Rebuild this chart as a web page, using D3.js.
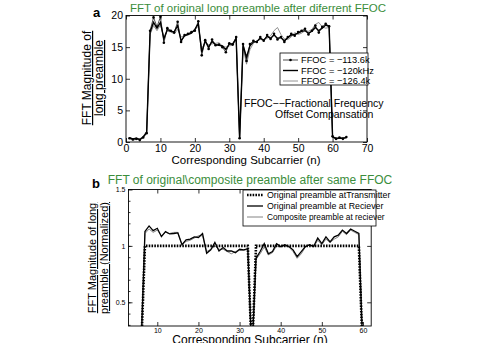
<!DOCTYPE html>
<html>
<head>
<meta charset="utf-8">
<script src="https://cdn.jsdelivr.net/npm/d3@7"></script>
<style>
  body { margin: 0; background: #fff; }
  svg { font-family: "Liberation Sans", Arial, sans-serif; }
  .ylab { text-decoration: underline; }
</style>
</head>
<body>
<div id="chart"></div>
<script>
    // subcarrier index 1..64
    var subcarriers = d3.range(1, 65);

    // panel a: FFT magnitude after different FFOC
    var ffocLabels = ["FFOC = \u2212113.6k", "FFOC = \u2212120kHz", "FFOC = \u2212126.4k"];
    var ffoc113 = [0.6, 0.4, 0.5, 0.3, 0.7, 1.4, 17.6, 19.7, 18.2, 19.8, 15.7, 18.0, 17.6, 17.3, 19.0, 15.8,
      16.9, 17.1, 17.4, 17.6, 19.1, 13.7, 16.1, 14.7, 16.2, 15.3, 15.4, 15.0, 14.2, 15.6, 15.4, 16.6,
      0.6, 15.5, 12.8, 15.5, 16.0, 15.8, 16.6, 16.0, 16.9, 16.3, 17.1, 16.2, 16.6, 15.8, 16.6, 17.1,
      16.8, 17.4, 17.6, 17.9, 17.0, 17.6, 18.4, 17.3, 18.2, 18.7, 18.3, 0.9, 0.5, 0.7, 0.5, 0.8];
    var ffoc120 = [0.7, 0.5, 0.6, 0.4, 0.8, 1.5, 17.4, 18.9, 18.0, 18.9, 16.3, 17.8, 17.5, 17.4, 18.4, 16.0,
      16.8, 17.0, 17.2, 17.8, 18.7, 14.2, 16.0, 15.0, 15.9, 15.4, 15.3, 15.2, 14.6, 15.5, 15.5, 16.4,
      0.5, 15.3, 13.4, 15.2, 15.8, 15.9, 16.4, 16.1, 16.7, 16.4, 16.9, 16.4, 16.5, 16.0, 16.5, 16.9,
      17.0, 17.2, 17.5, 17.6, 17.2, 17.5, 18.1, 17.6, 18.0, 18.5, 18.3, 0.8, 0.6, 0.6, 0.6, 0.7];
    var ffoc126 = [0.5, 0.3, 0.4, 0.5, 0.9, 1.7, 17.0, 18.4, 17.6, 18.5, 16.6, 17.5, 17.4, 17.1, 17.8, 16.6,
      16.8, 17.1, 17.4, 17.7, 18.3, 14.8, 15.7, 15.4, 15.5, 15.6, 15.7, 15.2, 15.0, 15.2, 15.3, 16.2,
      0.7, 15.0, 12.3, 14.6, 15.6, 16.0, 16.2, 16.1, 16.4, 16.8, 17.6, 18.1, 17.0, 16.3, 16.2, 16.6,
      17.3, 17.0, 17.2, 17.6, 17.5, 17.8, 18.6, 18.9, 18.2, 18.0, 18.1, 0.8, 0.4, 0.6, 0.7, 0.6];
    var aXTicks = [0, 10, 20, 30, 40, 50, 60, 70];
    var aYTicks = [0, 5, 10, 15, 20];

    // panel b: normalized FFT magnitude, original vs composite
    var bLabels = ["Original preamble atTransmitter", "Original preamble at Reciever", "Composite preamble at reciever"];
    var transmitter = [0, 0, 0, 0, 0, 0, 1, 1, 1, 1, 1, 1, 1, 1, 1, 1, 1, 1, 1, 1, 1, 1, 1, 1, 1, 1, 1, 1, 1, 1, 1, 1,
      0, 1, 1, 1, 1, 1, 1, 1, 1, 1, 1, 1, 1, 1, 1, 1, 1, 1, 1, 1, 1, 1, 1, 1, 1, 1, 1, 0, 0, 0, 0, 0];
    var receiver = [0.02, 0.02, 0.03, 0.02, 0.03, 0.05, 1.127, 1.177, 1.135, 1.156, 1.082, 1.127, 1.106, 1.11, 1.115, 1.01,
      1.053, 1.06, 1.08, 1.075, 1.11, 0.935, 0.965, 1.03, 0.955, 0.985, 0.955, 0.955, 0.94, 0.97, 0.965, 0.975,
      0.03, 0.89, 0.95, 1.02, 0.93, 0.95, 1.02, 0.995, 1.01, 0.995, 0.965, 0.905, 0.95, 0.995, 1.01, 0.995,
      1.07, 1.02, 1.08, 1.035, 1.08, 1.095, 1.14, 1.11, 1.15, 1.13, 1.11, 0.03, 0.02, 0.02, 0.03, 0.02];
    var composite = [0.02, 0.03, 0.02, 0.03, 0.02, 0.05, 1.11, 1.15, 1.12, 1.14, 1.09, 1.12, 1.11, 1.12, 1.12, 1.01,
      1.04, 1.05, 1.07, 1.09, 1.09, 0.95, 0.97, 1.00, 0.97, 0.97, 0.95, 0.93, 0.95, 0.96, 0.96, 0.97,
      0.03, 0.88, 0.93, 0.99, 0.92, 0.94, 1.00, 0.99, 1.00, 0.99, 0.95, 0.89, 0.93, 0.99, 1.01, 0.99,
      1.05, 1.01, 1.06, 1.03, 1.06, 1.08, 1.13, 1.10, 1.14, 1.12, 1.10, 0.04, 0.02, 0.03, 0.02, 0.03];
    var bXTicks = [10, 20, 30, 40, 50, 60];
    var bYTicks = [0.5, 1, 1.5];

    var width = 477, height = 343;
    var green = "#3b8d3b";

    var svg = d3.select("#chart").append("svg")
      .attr("width", width)
      .attr("height", height);

    // draws a MATLAB style box with inward ticks on all sides
    function frame(g, x, y, xt, yt, fs, pad, yMinor) {
      var r = x.range(), b = y.range();
      g.append("g").attr("transform", "translate(0," + b[0] + ")")
        .call(d3.axisBottom(x).tickValues(xt).tickFormat(d3.format("~g")).tickSizeInner(-4).tickSizeOuter(0).tickPadding(pad))
        .call(function(a) { a.selectAll("text").attr("font-size", fs); });
      g.append("g").attr("transform", "translate(0," + b[1] + ")")
        .call(d3.axisTop(x).tickValues(xt).tickSizeInner(-4).tickSizeOuter(0).tickFormat(""));
      g.append("g").attr("transform", "translate(" + r[0] + ",0)")
        .call(d3.axisLeft(y).tickValues(yt).tickFormat(d3.format("~g")).tickSizeInner(-4).tickSizeOuter(0).tickPadding(3))
        .call(function(a) { a.selectAll("text").attr("font-size", fs); });
      g.append("g").attr("transform", "translate(" + r[1] + ",0)")
        .call(d3.axisRight(y).tickValues(yt).tickSizeInner(-4).tickSizeOuter(0).tickFormat(""));
      if (yMinor) {
        g.append("g").attr("transform", "translate(" + r[0] + ",0)")
          .call(d3.axisLeft(y).tickValues(yMinor).tickSizeInner(-2).tickSizeOuter(0).tickFormat(""));
      }
      g.selectAll(".domain").remove();
      g.selectAll("line").attr("stroke", "#000").attr("stroke-width", 0.8);
      g.selectAll("text").attr("fill", "#000").attr("font-family", "Liberation Sans, Arial, sans-serif");
      g.append("rect")
        .attr("x", r[0]).attr("y", b[1])
        .attr("width", r[1] - r[0]).attr("height", b[0] - b[1])
        .attr("fill", "none").attr("stroke", "#000").attr("stroke-width", 0.9);
    }

    // ---------- panel a ----------
    var xa = d3.scaleLinear().domain([0, 70]).range([126, 367]);
    var ya = d3.scaleLinear().domain([0, 20]).range([142, 15.5]);
    var ga = svg.append("g");

    var lineA = function(vals) {
      return d3.line().x(function(d, i) { return xa(subcarriers[i]); }).y(function(d) { return ya(d); })(vals);
    };

    ga.append("path").attr("d", lineA(ffoc126)).attr("fill", "none").attr("stroke", "#777").attr("stroke-width", 0.8);
    ga.append("path").attr("d", lineA(ffoc120)).attr("fill", "none").attr("stroke", "#000").attr("stroke-width", 1.4);
    ga.append("path").attr("d", lineA(ffoc113)).attr("fill", "none").attr("stroke", "#000").attr("stroke-width", 0.7);
    ga.selectAll(".dot").data(ffoc113).enter().append("circle")
      .attr("cx", function(d, i) { return xa(subcarriers[i]); })
      .attr("cy", function(d) { return ya(d); })
      .attr("r", 1.3).attr("fill", "#000");

    frame(ga, xa, ya, aXTicks, aYTicks, "10.5px", 3);

    svg.append("text").attr("x", 258).attr("y", 12).attr("text-anchor", "middle")
      .attr("font-size", "11.5px").attr("fill", green)
      .text("FFT of original long preamble after diferrent FFOC");
    svg.append("text").attr("x", 93).attr("y", 17).attr("font-size", "13px").attr("font-weight", "bold").text("a");
    svg.append("text").attr("x", 246).attr("y", 164).attr("text-anchor", "middle")
      .attr("font-size", "11.5px").text("Corresponding Subcarrier (n)");
    svg.append("text").attr("class", "ylab").attr("transform", "translate(91,78) rotate(-90)")
      .attr("text-anchor", "middle").attr("font-size", "12px").text("FFT Magnitude of");
    svg.append("text").attr("class", "ylab").attr("transform", "translate(103,78) rotate(-90)")
      .attr("text-anchor", "middle").attr("font-size", "12px").text("long preamble");

    // legend a
    var la = svg.append("g").attr("transform", "translate(280,53)");
    la.append("rect").attr("width", 88).attr("height", 32).attr("fill", "#fff").attr("stroke", "#000").attr("stroke-width", 0.8);
    var aStyles = [{c: "#000", w: 0.7, dot: true}, {c: "#000", w: 1.4}, {c: "#777", w: 0.8}];
    ffocLabels.forEach(function(t, i) {
      var yy = 7 + i * 10.5;
      la.append("line").attr("x1", 3).attr("x2", 18).attr("y1", yy).attr("y2", yy)
        .attr("stroke", aStyles[i].c).attr("stroke-width", aStyles[i].w);
      if (aStyles[i].dot) la.append("circle").attr("cx", 10.5).attr("cy", yy).attr("r", 1.3);
      la.append("text").attr("x", 21).attr("y", yy + 3.3).attr("font-size", "9.3px").text(t);
    });

    svg.append("text").attr("x", 244).attr("y", 107).attr("font-size", "10.5px").text("FFOC\u2212\u2212Fractional Frequency");
    svg.append("text").attr("x", 275).attr("y", 118).attr("font-size", "10.5px").text("Offset Compansation");

    // ---------- panel b ----------
    var xb = d3.scaleLinear().domain([3, 62]).range([128.5, 371.2]);
    var yb = d3.scaleLinear().domain([0.29, 1.5]).range([326, 189.5]);
    var gb = svg.append("g");

    svg.append("clipPath").attr("id", "clipb").append("rect")
      .attr("x", 128.5).attr("y", 189.5).attr("width", 371.2 - 128.5).attr("height", 326 - 189.5);

    var lineB = function(vals) {
      return d3.line().x(function(d, i) { return xb(subcarriers[i]); }).y(function(d) { return yb(d); })(vals);
    };
    var plotB = gb.append("g").attr("clip-path", "url(#clipb)");
    plotB.append("path").attr("d", lineB(composite)).attr("fill", "none").attr("stroke", "#666").attr("stroke-width", 0.8);
    plotB.append("path").attr("d", lineB(receiver)).attr("fill", "none").attr("stroke", "#000").attr("stroke-width", 1.3);
    plotB.append("path").attr("d", lineB(transmitter)).attr("fill", "none").attr("stroke", "#000")
      .attr("stroke-width", 2.6).attr("stroke-dasharray", "1.6,1.2");

    frame(gb, xb, yb, bXTicks, bYTicks, "7px", 2, d3.range(0.3, 1.5, 0.1));

    svg.append("text").attr("x", 250).attr("y", 184).attr("text-anchor", "middle")
      .attr("font-size", "12px").attr("fill", green)
      .text("FFT of original\\composite preamble after same FFOC");
    svg.append("text").attr("x", 92).attr("y", 188).attr("font-size", "13px").attr("font-weight", "bold").text("b");
    svg.append("text").attr("x", 250).attr("y", 344).attr("text-anchor", "middle")
      .attr("font-size", "12px").text("Corresponding Subcarrier (n)");
    svg.append("text").attr("class", "ylab").attr("transform", "translate(96,258) rotate(-90)")
      .attr("text-anchor", "middle").attr("font-size", "11px").text("FFT Magnitude of long");
    svg.append("text").attr("class", "ylab").attr("transform", "translate(108,258) rotate(-90)")
      .attr("text-anchor", "middle").attr("font-size", "11px").text("preamble (Normalized)");

    // legend b
    var lb = svg.append("g").attr("transform", "translate(243,190)");
    lb.append("rect").attr("width", 133).attr("height", 36).attr("fill", "#fff").attr("stroke", "#000").attr("stroke-width", 0.8);
    var bStyles = [{c: "#000", w: 2.6, dash: "1.6,1.2"}, {c: "#000", w: 1.3}, {c: "#666", w: 0.8}];
    bLabels.forEach(function(t, i) {
      var yy = 5 + i * 11;
      lb.append("line").attr("x1", 4).attr("x2", 20).attr("y1", yy).attr("y2", yy)
        .attr("stroke", bStyles[i].c).attr("stroke-width", bStyles[i].w)
        .attr("stroke-dasharray", bStyles[i].dash || null);
      lb.append("text").attr("x", 24).attr("y", yy + 3).attr("font-size", i === 2 ? "8.3px" : "8.8px").text(t);
    });
</script>
</body>
</html>
